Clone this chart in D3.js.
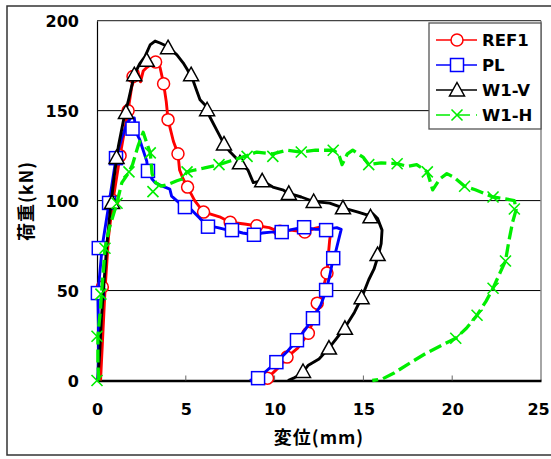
<!DOCTYPE html>
<html><head><meta charset="utf-8">
<script src="https://cdn.jsdelivr.net/npm/d3@7"></script>
<style>body{margin:0;background:#fff}</style>
</head><body>
<svg id="c" width="551" height="459"></svg>
<script>
// ---- data ----
const xTicks = [0, 5, 10, 15, 20, 25];
const yTicks = [0, 50, 100, 150, 200];
const seriesNames = ["REF1", "PL", "W1-V", "W1-H"];
const xTitle = "変位(mm)";
const yTitle = "荷重(kN)";

const ref1Line = [[0.2,0],[0.3,20],[0.45,50],[0.65,80],[0.9,100],[1.3,125],[1.75,150],[1.95,163],[2.1,168],[2.3,172],[2.45,166],[2.6,172],[2.8,174],[3.1,176],[3.35,177.5],[3.55,174],[3.75,165],[3.9,155],[4.0,145],[4.3,133],[4.56,126],[4.65,117],[4.85,112],[5.1,107.5],[5.5,100],[6.0,93.6],[6.4,92.5],[6.9,91],[7.5,88],[8.3,87],[9.0,86],[9.7,85],[10.3,82.5],[10.9,83.6],[11.7,82.5],[12.3,84.7],[12.8,85.8],[13.2,84.7],[13.1,78],[13.0,67],[12.95,59.7],[12.7,50],[12.55,44.7],[12.3,36.4],[11.9,26.3],[11.3,18],[10.7,13],[10.2,7],[9.6,1.3],[9.3,0]];
const ref1Marks = [[0.3,52],[0.9,100],[1.3,125],[1.75,150],[2.03,169],[3.3,177],[3.75,165],[4.0,145],[4.56,126],[5.1,107.5],[6.0,93.6],[7.5,88],[9.0,86],[10.3,83],[11.7,82.5],[12.95,59.7],[12.4,43],[11.9,26.3],[10.7,13],[9.6,1.3]];

const plLine = [[0.05,0],[0.1,20],[0.05,48],[0.3,75],[0.68,98.7],[1.07,123.6],[1.4,135],[1.7,143],[1.9,146],[2.1,146],[2.2,138],[2.4,134],[2.8,122],[2.87,116.5],[3.1,112],[3.27,110],[3.55,108.6],[4.1,106.4],[4.2,102.5],[4.6,99],[4.95,96.4],[5.3,95],[5.8,90],[6.25,86],[6.8,85],[7.2,84],[7.6,83.6],[8.2,82],[8.84,81],[9.3,82],[9.8,82.5],[10.4,82.5],[11.0,84],[11.66,85.2],[12.3,84],[12.9,84],[13.5,85],[13.75,84],[13.6,78],[13.4,70],[13.3,68],[13.1,58],[12.9,50],[12.6,42],[12.16,34.6],[11.7,28],[11.26,22.4],[10.7,16],[10.1,10.2],[9.5,5],[9.07,1.3],[8.6,0]];
const plMarks = [[0.05,48.6],[0.1,73.6],[0.68,98.7],[1.07,123.6],[2.0,140],[2.87,116.5],[4.95,96.4],[6.25,85.5],[7.6,83.6],[8.84,81],[10.4,82.5],[11.66,85.2],[12.9,83.6],[13.3,68],[12.9,50.3],[12.16,34.6],[11.26,22.4],[10.1,10.2],[9.07,1.3]];

const w1vLine = [[0.05,0],[0.15,15],[0.25,35],[0.4,55],[0.55,75],[0.75,95],[0.95,112],[1.2,130],[1.5,145],[1.8,157],[2.1,170],[2.4,176],[2.7,180],[2.99,186.5],[3.27,188.7],[3.55,187.6],[4.0,185.5],[4.5,181],[4.85,176.6],[5.1,172.6],[5.4,167],[5.6,161.5],[5.8,156],[6.1,153],[6.35,146.6],[6.75,139],[7.15,131.5],[7.5,127],[7.8,124],[8.05,121],[8.5,117],[8.8,110],[9.3,111],[9.9,107.5],[10.5,105.8],[10.8,104],[11.5,102],[12.2,99.5],[13.1,98.6],[13.85,96],[14.7,93.6],[15.2,92],[15.5,93],[15.8,90],[16.05,83.6],[16.0,76],[15.85,70],[15.6,62],[15.3,56],[14.9,46],[14.5,38],[14.0,30],[13.5,23.5],[13.06,18],[12.5,12],[11.9,8.5],[11.5,3.5],[11.1,1.5],[10.75,0]];
const w1vMarks = [[0.85,99],[1.1,124],[1.63,149],[2.1,170],[2.8,178],[4.0,185],[5.3,170],[6.2,150.5],[7.15,131.5],[8.05,121],[9.3,111],[10.8,104],[12.2,99.5],[13.85,96],[15.4,91],[15.8,70],[14.9,46],[13.96,29],[13.06,18],[11.6,5]];

const w1hLine = [[0.1,0],[0.05,10],[0.05,25],[0.2,40],[0.25,48],[0.35,60],[0.45,73.5],[0.7,85],[1.1,98],[1.4,110],[1.75,115],[2.0,120],[2.3,130],[2.6,138],[2.8,132],[3.0,126.5],[3.1,115],[3.3,110],[3.6,108],[4.0,109],[4.5,111],[4.8,112],[5.07,116],[5.5,117],[6.0,118],[6.87,120],[7.5,122],[8.45,125],[9.0,127],[9.9,126],[10.7,128],[11.5,127],[12.3,128],[13.3,128],[13.6,126],[13.8,120],[14.1,126],[14.4,128],[15.0,124],[15.3,120],[16.0,121],[16.9,120.5],[17.5,119],[18.0,120],[18.6,116],[18.9,106],[19.3,112],[19.7,115],[20.1,113],[20.7,108],[21.3,106],[22.3,102],[23.0,101],[23.5,100],[23.6,95],[23.4,88],[23.2,78],[23.0,66.4],[22.7,60],[22.3,51.3],[21.9,44],[21.4,36.3],[20.8,29],[20.2,23.5],[19.5,20],[18.5,15],[17.5,9],[16.7,4],[16.1,1],[15.5,0]];
const w1hMarks = [[0,0],[0.0,24.6],[0.22,48],[0.45,73.5],[1.13,98.5],[1.8,116],[3.0,126.5],[3.15,105],[5.07,116],[6.87,120],[8.45,124.6],[9.9,124.6],[11.5,127],[13.3,128],[15.3,120],[16.9,120.5],[18.6,116],[20.7,108],[22.3,102],[23.5,95.3],[23.0,66.4],[22.3,51.3],[21.4,36.3],[20.2,23.5]];

// ---- chart ----
const svg = d3.select("#c");
const W = 551, H = 459;
const m = {l: 97, r: 541, t: 20.7, b: 380.5};
const x = d3.scaleLinear().domain([0, 25]).range([m.l, m.r]);
const y = d3.scaleLinear().domain([0, 200]).range([m.b, m.t]);

svg.append("rect").attr("width", W).attr("height", H).attr("fill", "#fff");
// outer frame
svg.append("rect").attr("x", 7).attr("y", 6).attr("width", 600).attr("height", 449)
  .attr("fill", "none").attr("stroke", "#333").attr("stroke-width", 1.5);

// gridlines
svg.append("g").selectAll("line").data(yTicks.filter(d => d > 0 && d < 200)).join("line")
  .attr("x1", m.l).attr("x2", m.r).attr("y1", d => y(d)).attr("y2", d => y(d))
  .attr("stroke", "#000").attr("stroke-width", 1);
// plot border top/right
svg.append("line").attr("x1", m.l).attr("x2", m.r).attr("y1", y(200)).attr("y2", y(200))
  .attr("stroke", "#444").attr("stroke-width", 1.3);
svg.append("line").attr("x1", m.r).attr("x2", m.r).attr("y1", y(200)).attr("y2", y(0))
  .attr("stroke", "#888").attr("stroke-width", 1.5);

const font = "'DejaVu Sans', sans-serif";
// x axis
const xAxis = d3.axisBottom(x).tickValues(xTicks).tickSize(0).tickPadding(0).tickFormat(d3.format("d"));
const gx = svg.append("g").attr("transform", `translate(0,${m.b})`).call(xAxis);
gx.select(".domain").attr("stroke", "#000").attr("stroke-width", 2.5);
gx.selectAll(".tick text").attr("dy", null).attr("y", 34).attr("font-family", font)
  .attr("font-size", 16).attr("font-weight", "bold").attr("fill", "#000")
  .attr("dx", d => d === 25 ? -3 : 0);
// small inner ticks
svg.append("g").selectAll("line").data(xTicks.slice(1, -1)).join("line")
  .attr("x1", d => x(d)).attr("x2", d => x(d)).attr("y1", m.b).attr("y2", m.b - 5)
  .attr("stroke", "#666").attr("stroke-width", 1);

// y axis
const yAxis = d3.axisLeft(y).tickValues(yTicks).tickSize(0).tickPadding(18).tickFormat(d3.format("d"));
const gy = svg.append("g").attr("transform", `translate(${m.l},0)`).call(yAxis);
gy.select(".domain").attr("stroke", "#000").attr("stroke-width", 1.2);
gy.selectAll(".tick text").attr("font-family", font).attr("font-size", 16)
  .attr("font-weight", "bold").attr("fill", "#000").attr("dy", "0.36em");

// axis titles
const cjk = "'Noto Sans CJK JP', sans-serif";
svg.append("text").attr("x", 319).attr("y", 444).attr("text-anchor", "middle")
  .attr("font-family", cjk).attr("font-size", 18).attr("font-weight", "bold")
  .attr("letter-spacing", 1).text(xTitle);
svg.append("text").attr("transform", "translate(33,201) rotate(-90)").attr("text-anchor", "middle")
  .attr("font-family", cjk).attr("font-size", 18).attr("font-weight", "bold")
  .attr("letter-spacing", 1).text(yTitle);

// markers
function marker(g, type, color) {
  if (type === "circle") {
    g.append("circle").attr("r", 6).attr("fill", "#fff").attr("stroke", color).attr("stroke-width", 1.5);
  } else if (type === "square") {
    g.append("rect").attr("x", -6.5).attr("y", -6.5).attr("width", 13).attr("height", 13)
      .attr("fill", "#fff").attr("stroke", color).attr("stroke-width", 1.5);
  } else if (type === "triangle") {
    g.append("path").attr("d", "M0,-7.5L7.5,6L-7.5,6Z").attr("fill", "#fff")
      .attr("stroke", color).attr("stroke-width", 1.5);
  } else {
    g.append("path").attr("d", "M-5.5,-5.5L5.5,5.5M5.5,-5.5L-5.5,5.5")
      .attr("stroke", color).attr("stroke-width", 1.6).attr("fill", "none");
  }
}

const series = [
  {name: seriesNames[0], line: ref1Line, marks: ref1Marks, color: "#ff0000", type: "circle", dash: null, w: 2.9},
  {name: seriesNames[1], line: plLine, marks: plMarks, color: "#0000ff", type: "square", dash: null, w: 2.9},
  {name: seriesNames[2], line: w1vLine, marks: w1vMarks, color: "#000000", type: "triangle", dash: null, w: 2.9},
  {name: seriesNames[3], line: w1hLine, marks: w1hMarks, color: "#00ee00", type: "x", dash: "13,5", w: 3.3}
];

const lineGen = d3.line().x(d => x(d[0])).y(d => y(d[1]));
series.forEach(s => {
  svg.append("path").attr("d", lineGen(s.line)).attr("fill", "none").attr("stroke", s.color)
    .attr("stroke-width", s.w).attr("stroke-linejoin", "round").attr("stroke-linecap", "butt")
    .attr("stroke-dasharray", s.dash);
  s.marks.forEach(p => {
    const g = svg.append("g").attr("transform", `translate(${x(p[0])},${y(p[1])})`);
    marker(g, s.type, s.color);
  });
});

// legend
const lg = svg.append("g");
lg.append("rect").attr("x", 429).attr("y", 23).attr("width", 112).attr("height", 106)
  .attr("fill", "#fff").attr("stroke", "#555").attr("stroke-width", 1.3);
series.forEach((s, i) => {
  const yy = 40 + i * 25;
  lg.append("line").attr("x1", 436).attr("x2", 477).attr("y1", yy).attr("y2", yy)
    .attr("stroke", s.color).attr("stroke-width", 1.5).attr("stroke-dasharray", s.dash ? "14,6" : null);
  const g = lg.append("g").attr("transform", `translate(457,${yy})`);
  marker(g, s.type, s.color);
  lg.append("text").attr("x", 482).attr("y", yy).attr("dy", "0.36em")
    .attr("font-family", font).attr("font-size", 16.5).attr("font-weight", "bold").text(s.name);
});
</script>
</body></html>
